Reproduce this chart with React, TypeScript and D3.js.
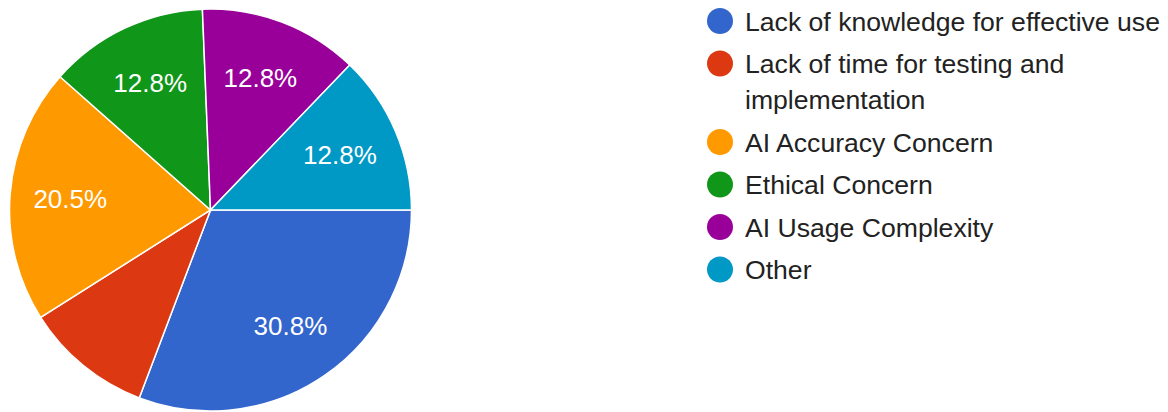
import React from "react";
import * as d3 from "d3";

// Survey responses: main barriers to using AI tools
const categories = [
  "Lack of knowledge for effective use",
  "Lack of time for testing and implementation",
  "AI Accuracy Concern",
  "Ethical Concern",
  "AI Usage Complexity",
  "Other",
];
const counts = [12, 4, 8, 5, 5, 5];
const colors = ["#3366cc", "#dc3912", "#ff9900", "#109618", "#990099", "#0099c6"];

const WIDTH = 1168;
const HEIGHT = 412;
const FONT = "'Liberation Sans', Arial, Helvetica, sans-serif";

function wrapText(text: string, maxWidth: number, font: string): string[] {
  const ctx = document.createElement("canvas").getContext("2d");
  if (!ctx) return [text];
  ctx.font = font;
  const words = text.split(" ");
  const lines: string[] = [];
  let line = "";
  for (const w of words) {
    const test = line ? line + " " + w : w;
    if (ctx.measureText(test).width > maxWidth && line) {
      lines.push(line);
      line = w;
    } else {
      line = test;
    }
  }
  if (line) lines.push(line);
  return lines;
}

export default function App() {
  const cx = 210.5;
  const cy = 210;
  const radius = 201;
  const total = d3.sum(counts);

  const pie = d3
    .pie<number>()
    .sort(null)
    .value((d) => d)
    .startAngle(Math.PI / 2)
    .endAngle(Math.PI / 2 + 2 * Math.PI);
  const arcs = pie(counts);
  const arcGen = d3.arc<d3.PieArcDatum<number>>().innerRadius(0).outerRadius(radius);
  const labelArc = d3
    .arc<d3.PieArcDatum<number>>()
    .innerRadius(radius * 0.7)
    .outerRadius(radius * 0.7);
  const pct = d3.format(".1%");

  // Legend layout
  const legendX = 720;
  const textX = 745;
  const legendFontSize = 26.6;
  const rowStep = 42.5;
  const wrapStep = 36;
  let y = 21;
  const legendRows = categories.map((c, i) => {
    const lines = wrapText(c, 440, `${legendFontSize}px ${FONT}`);
    const row = { label: c, lines, y, color: colors[i] };
    y += rowStep + (lines.length - 1) * wrapStep;
    return row;
  });

  return (
    <svg
      width={WIDTH}
      height={HEIGHT}
      style={{ position: "absolute", left: 0, top: 0, background: "#fff" }}
      fontFamily={FONT}
    >
      <g transform={`translate(${cx},${cy})`}>
        {arcs.map((a, i) => (
          <path key={i} d={arcGen(a) || ""} fill={colors[i]} stroke="#fff" strokeWidth={1.5} />
        ))}
        {arcs.map((a, i) => {
          const frac = a.data / total;
          if (frac < 0.12) return null;
          const [lx, ly] = labelArc.centroid(a);
          return (
            <text
              key={i}
              x={lx}
              y={ly}
              textAnchor="middle"
              dominantBaseline="central"
              fill="#fff"
              fontSize={26}
            >
              {pct(frac)}
            </text>
          );
        })}
      </g>
      <g>
        {legendRows.map((r, i) => (
          <g key={i}>
            <circle cx={legendX} cy={r.y} r={13} fill={r.color} />
            {r.lines.map((ln, j) => (
              <text
                key={j}
                x={textX}
                y={r.y + 9.8 + j * wrapStep}
                fontSize={legendFontSize}
                fill="#222222"
              >
                {ln}
              </text>
            ))}
          </g>
        ))}
      </g>
    </svg>
  );
}
